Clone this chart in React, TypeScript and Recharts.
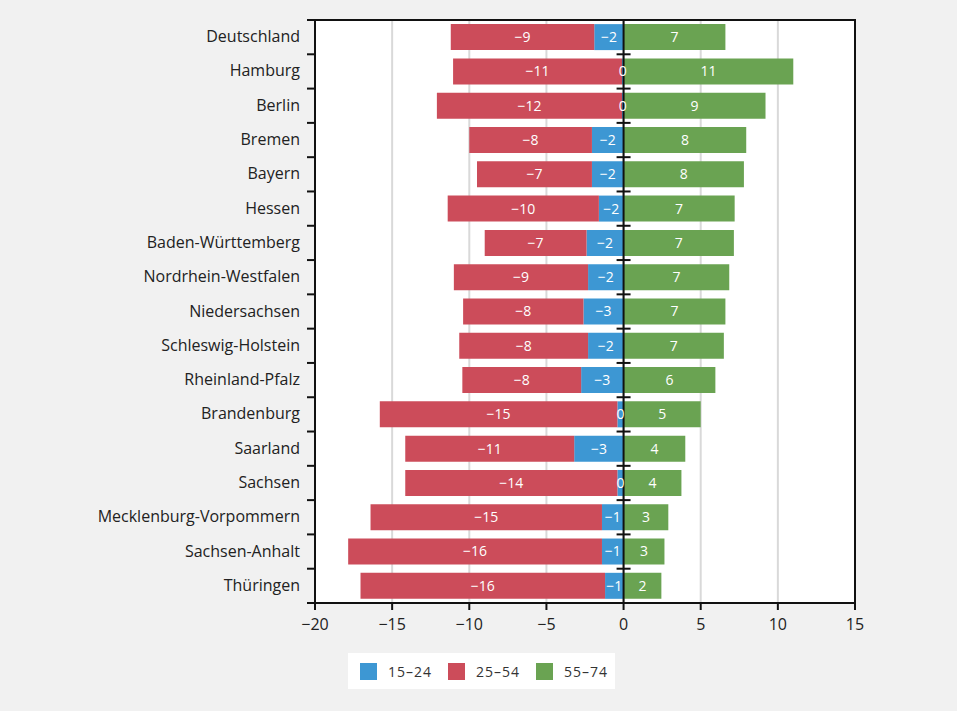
import React from 'react'
import { Bar, BarChart, CartesianGrid, LabelList, ReferenceArea, ReferenceLine, XAxis, YAxis } from 'recharts'

const regions = [
  'Deutschland', 'Hamburg', 'Berlin', 'Bremen', 'Bayern', 'Hessen', 'Baden-Württemberg',
  'Nordrhein-Westfalen', 'Niedersachsen', 'Schleswig-Holstein', 'Rheinland-Pfalz',
  'Brandenburg', 'Saarland', 'Sachsen', 'Mecklenburg-Vorpommern', 'Sachsen-Anhalt', 'Thüringen',
]
const age15to24 = [-1.9, -0.1, -0.1, -2.05, -2.05, -1.6, -2.4, -2.3, -2.6, -2.3, -2.75, -0.4, -3.2, -0.4, -1.4, -1.4, -1.2]
const age25to54 = [-9.3, -10.95, -12.0, -7.95, -7.45, -9.8, -6.6, -8.7, -7.8, -8.35, -7.7, -15.4, -10.95, -13.75, -15.0, -16.45, -15.85]
const age55to74 = [6.6, 11.0, 9.2, 7.95, 7.8, 7.2, 7.15, 6.85, 6.6, 6.5, 5.95, 5.0, 4.0, 3.75, 2.9, 2.65, 2.45]
const xTicks = [-20, -15, -10, -5, 0, 5, 10, 15]

const series = [
  { key: 'a', name: '15–24', color: '#3d97d3' },
  { key: 'b', name: '25–54', color: '#cc4c5a' },
  { key: 'c', name: '55–74', color: '#6aa352' },
]

const data = regions.map((name, i) => ({ name, a: age15to24[i], b: age25to54[i], c: age55to74[i] }))

const W = 957
const H = 711
const TOP = 20
const BOTTOM = 108
const FONT = '"Open Sans", sans-serif'
const band = (H - TOP - BOTTOM) / regions.length

const fmt = (v: number) => {
  const r = Math.round(v)
  return r < 0 ? `−${Math.abs(r)}` : `${r}`
}

const YTick = (props: any) => {
  const { y, payload, index } = props
  const axisX = 315
  return (
    <g>
      <line x1={axisX - 8} x2={axisX} y1={y - band / 2} y2={y - band / 2} stroke="#111" strokeWidth={2} />
      {index === regions.length - 1 && (
        <line x1={axisX - 8} x2={axisX} y1={y + band / 2} y2={y + band / 2} stroke="#111" strokeWidth={2} />
      )}
      <text x={axisX - 15} y={y} dy={5} textAnchor="end" fontSize={16} fill="#222" fontFamily={FONT}>
        {payload.value}
      </text>
    </g>
  )
}

const ZeroLine = (props: any) => {
  const { x1, y1, y2 } = props
  const top = Math.min(y1, y2)
  const h = Math.abs(y2 - y1)
  return (
    <g>
      <line x1={x1} x2={x1} y1={y1} y2={y2} stroke="#111" strokeWidth={2} />
      {regions.map((_, i) => (
        <line key={i} x1={x1 - 7} x2={x1 + 7} y1={top + (h * i) / regions.length} y2={top + (h * i) / regions.length} stroke="#111" strokeWidth={2} />
      ))}
    </g>
  )
}

export default function App() {
  return (
    <div style={{ position: 'absolute', left: 0, top: 0, width: W, height: H, background: '#f1f1f1', fontFamily: FONT }}>
      <BarChart
        width={W}
        height={H}
        data={data}
        layout="vertical"
        stackOffset="sign"
        barCategoryGap="12%"
        margin={{ top: TOP, right: 102, bottom: BOTTOM - 30, left: 0 }}
      >
        <CartesianGrid horizontal={false} fill="#fff" fillOpacity={1} stroke="#d9d9d9" strokeWidth={2} />
        <XAxis
          type="number"
          domain={[-20, 15]}
          ticks={xTicks}
          tickFormatter={fmt}
          height={30}
          tickSize={7}
          tickMargin={9}
          stroke="#111"
          strokeWidth={2}
          tick={{ fill: '#222', fontSize: 16, fontFamily: FONT }}
        />
        <YAxis type="category" dataKey="name" width={315} tickLine={false} stroke="#111" strokeWidth={2} tick={<YTick />} />
        {series.map((s) => (
          <Bar key={s.key} dataKey={s.key} name={s.name} stackId="s" fill={s.color} isAnimationActive={false}>
            <LabelList dataKey={s.key} position="center" formatter={(v: any) => fmt(Number(v))} fill="#fff" fontSize={14} fontFamily={FONT} />
          </Bar>
        ))}
        <ReferenceLine x={0} shape={<ZeroLine />} />
        <ReferenceArea x1={-20} x2={15} fill="none" stroke="#111" strokeWidth={2} fillOpacity={0} />
      </BarChart>
      <div style={{ position: 'absolute', left: 348, top: 653, width: 267, height: 36, background: '#fff' }}>
        {series.map((s, i) => (
          <div key={s.key} style={{ position: 'absolute', left: 12 + i * 88, top: 10, display: 'flex', alignItems: 'center', whiteSpace: 'nowrap' }}>
            <span style={{ width: 17, height: 17, background: s.color, display: 'inline-block', marginRight: 11 }} />
            <span style={{ fontSize: 14, color: '#333', lineHeight: '17px', letterSpacing: 1 }}>{s.name}</span>
          </div>
        ))}
      </div>
    </div>
  )
}
